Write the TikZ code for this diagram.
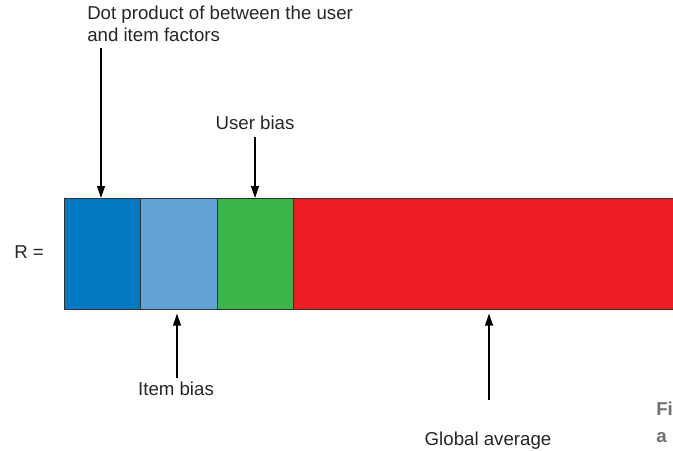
\documentclass[tikz,border=0pt]{standalone}
\usepackage{fontspec}
\setmainfont{Liberation Sans}
\usetikzlibrary{arrows.meta}
\definecolor{cBlue}{HTML}{0079C2}
\definecolor{cLight}{HTML}{62A3D8}
\definecolor{cGreen}{HTML}{3BB54A}
\definecolor{cRed}{HTML}{ED1C24}
\definecolor{cEdge}{HTML}{333333}
\definecolor{cCap}{HTML}{707070}
\begin{document}
\begin{tikzpicture}[x=0.75pt,y=-0.75pt,
  seg/.style={draw=cEdge,line width=1pt,minimum height=111*0.75pt,inner sep=0pt,anchor=north west},
  lbl/.style={font=\fontsize{14}{16.5}\selectfont,inner sep=0pt,text=black!85},
  pointer/.style={draw=black,line width=0.8pt,-{Triangle[length=9pt,width=6pt]}},
  captext/.style={font=\bfseries\fontsize{14}{16}\selectfont,text=cCap,inner sep=0pt,anchor=base west}]
\useasboundingbox (0,0) rectangle (673,450);
\node[seg,fill=cRed,minimum width=381*0.75pt] (red) at (293,198) {};
\node[seg,fill=cBlue,minimum width=76*0.75pt] (blue) at (64,198) {};
\node[seg,fill=cLight,minimum width=77*0.75pt] (light) at (140,198) {};
\node[seg,fill=cGreen,minimum width=76*0.75pt] (green) at (217,198) {};
\node[captext] (capa) at (656,415) {Fi};
\node[captext] (capb) at (656,442) {a};
\node[lbl,anchor=base west] (R) at (14,258) {R =};
\node[lbl,anchor=north west,align=left] (dot) at (87,6) {Dot product of between the user\\and item factors};
\node[lbl,anchor=base] (user) at (255,129) {User bias};
\node[lbl,anchor=base] (item) at (176,395) {Item bias};
\node[lbl,anchor=base] (glob) at (488,445) {Global average};
\coordinate (d0) at (101,48);
\coordinate (u0) at (255,137);
\coordinate (i0) at (177,378);
\coordinate (g0) at (489,400);
\draw[pointer] (d0) -- (d0 |- blue.north);
\draw[pointer] (u0) -- (u0 |- green.north);
\draw[pointer] (i0) -- ([yshift=-2.5pt]i0 |- light.south);
\draw[pointer] (g0) -- ([yshift=-2.5pt]g0 |- red.south);
\end{tikzpicture}
\end{document}
